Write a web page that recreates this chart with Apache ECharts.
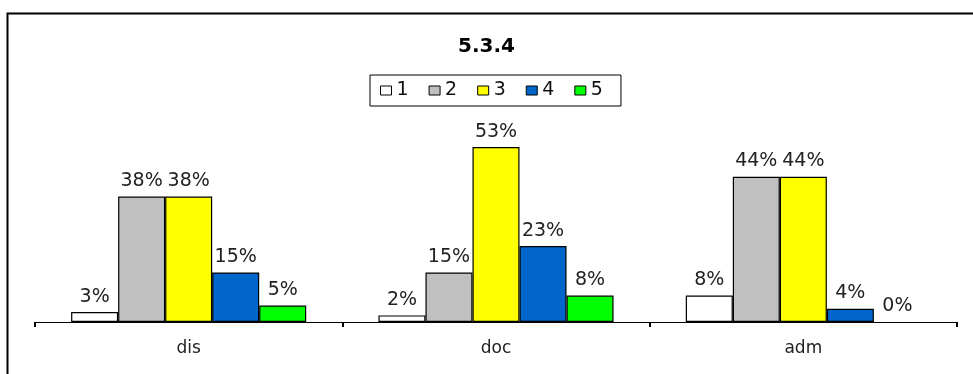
<!DOCTYPE html>
<html>
<head>
<meta charset="utf-8">
<script src="https://cdn.jsdelivr.net/npm/echarts@6/dist/echarts.min.js"></script>
<style>
html,body{margin:0;padding:0;background:#fff;}
#chart{width:973px;height:374px;}
</style>
</head>
<body>
<div id="chart"></div>
<script>
const categories = ['dis', 'doc', 'adm'];
const seriesNames = ['1', '2', '3', '4', '5'];
const s1 = [3, 2, 8];
const s2 = [38, 15, 44];
const s3 = [38, 53, 44];
const s4 = [15, 23, 4];
const s5 = [5, 8, 0];
const colors = ['#FFFFFF', '#C0C0C0', '#FFFF00', '#0066CC', '#00FF00'];
const values = [s1, s2, s3, s4, s5];

const FONT = 'DejaVu Sans';
const chart = echarts.init(document.getElementById('chart'));
chart.setOption({
  animation: false,
  backgroundColor: '#fff',
  title: {
    text: '5.3.4',
    left: 'center',
    top: 32,
    textStyle: {fontFamily: FONT, fontSize: 20, fontWeight: 'bold', color: '#000'}
  },
  legend: {
    data: seriesNames,
    left: 370,
    top: 75,
    padding: [6, 18, 6, 10],
    itemGap: 20,
    itemWidth: 11,
    itemHeight: 9,
    icon: 'rect',
    borderColor: '#000',
    borderWidth: 1,
    itemStyle: {borderColor: '#000', borderWidth: 1},
    textStyle: {fontFamily: FONT, fontSize: 19, color: '#111'}
  },
  grid: {left: 35, right: 16, top: 124, bottom: 52, containLabel: false},
  xAxis: {
    type: 'category',
    data: categories,
    axisLine: {lineStyle: {color: '#000', width: 1}},
    axisTick: {show: true, length: 5, lineStyle: {color: '#000', width: 2}},
    axisLabel: {fontFamily: FONT, fontSize: 17, color: '#222', margin: 18}
  },
  yAxis: {type: 'value', min: 0, max: 60, show: false, splitLine: {show: false}},
  graphic: [{
    type: 'rect',
    left: 5, top: 11,
    shape: {width: 1000, height: 400},
    style: {fill: 'none', stroke: '#000', lineWidth: 2},
    silent: true
  }],
  series: seriesNames.map((n, i) => ({
    name: n,
    type: 'bar',
    data: values[i].map(v => v === 0 ? {value: v, itemStyle: {borderWidth: 0}} : v),
    barGap: '0%',
    barCategoryGap: '23.5%',
    itemStyle: {color: colors[i], borderColor: '#000', borderWidth: 1.2},
    label: {
      show: true,
      position: 'top',
      distance: 6,
      formatter: p => Math.round(p.value) + '%',
      fontFamily: FONT,
      fontSize: 19,
      color: '#222'
    }
  }))
});
</script>
</body>
</html>
